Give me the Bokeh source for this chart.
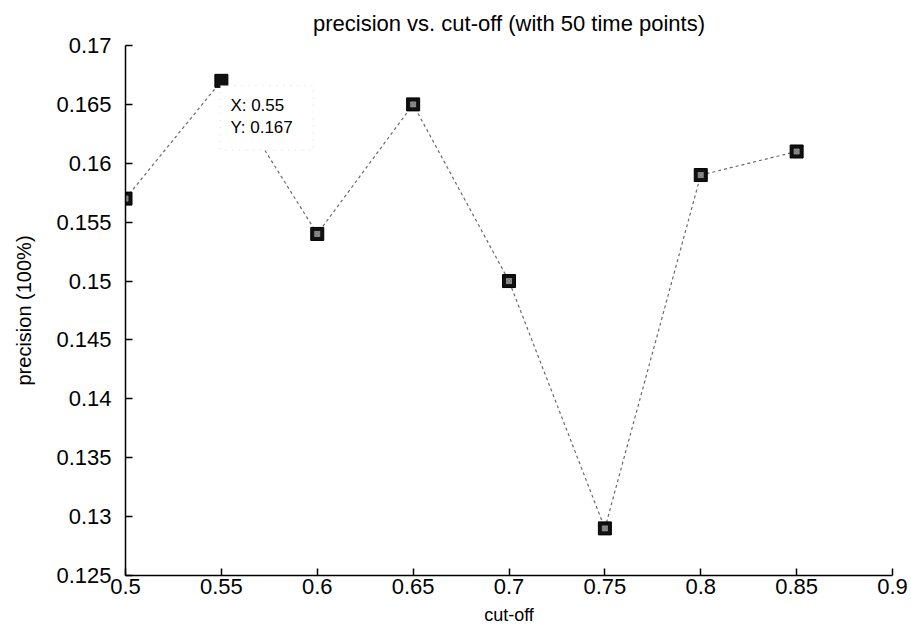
from bokeh.plotting import figure
from bokeh.models import Range1d, FixedTicker, Label, BoxAnnotation
from bokeh.embed import file_html
from bokeh.resources import INLINE

cutoff = [0.5, 0.55, 0.6, 0.65, 0.7, 0.75, 0.8, 0.85]
precision = [0.157, 0.167, 0.154, 0.165, 0.150, 0.129, 0.159, 0.161]
x_ticks = [0.5, 0.55, 0.6, 0.65, 0.7, 0.75, 0.8, 0.85, 0.9]
y_ticks = [0.125, 0.13, 0.135, 0.14, 0.145, 0.15, 0.155, 0.16, 0.165, 0.17]
tip_index = 1  # data tip is shown on the 0.55 point

FONT = "Liberation Sans"

p = figure(width=911, height=630, output_backend="svg", toolbar_location=None,
           x_range=Range1d(0.5, 0.9), y_range=Range1d(0.125, 0.17),
           min_border_left=125, min_border_right=19, min_border_top=45, min_border_bottom=55)
p.title.text = "precision vs. cut-off (with 50 time points)"
p.title.align = "center"
p.title.vertical_align = "top"
p.title.text_font = FONT
p.title.text_font_size = "22px"
p.title.text_font_style = "normal"
p.title.text_color = "black"
p.title.offset = 0
p.title.standoff = 16

p.grid.visible = False
p.outline_line_color = None
p.background_fill_color = "white"
p.border_fill_color = "white"

for ax in (p.xaxis[0], p.yaxis[0]):
    ax.major_tick_in = 7
    ax.major_tick_out = 0
    ax.minor_tick_in = 0
    ax.minor_tick_out = 0
    ax.axis_line_color = "black"
    ax.axis_line_width = 1.5
    ax.major_tick_line_width = 1.5
    ax.major_label_text_font = FONT
    ax.major_label_text_font_size = "22px"
    ax.major_label_text_color = "black"
    ax.axis_label_text_font = FONT
    ax.axis_label_text_font_style = "normal"
    ax.axis_label_text_color = "black"

p.xaxis.ticker = FixedTicker(ticks=x_ticks)
p.yaxis.ticker = FixedTicker(ticks=y_ticks)
p.xaxis.major_label_overrides = {t: f"{t:g}" for t in x_ticks}
p.yaxis.major_label_overrides = {t: f"{t:g}" for t in y_ticks}
p.xaxis.axis_label = "cut-off"
p.yaxis.axis_label = "precision (100%)"
p.xaxis.axis_label_text_font_size = "18px"
p.yaxis.axis_label_text_font_size = "20px"
p.xaxis.major_label_standoff = 3
p.yaxis.major_label_standoff = 14
p.xaxis.axis_label_standoff = 8
p.yaxis.axis_label_standoff = 18

p.line(cutoff, precision, line_color="#6a6a6a", line_width=1.2, line_dash="3 3")
p.scatter(cutoff, precision, marker="square", size=13, fill_color="#111111",
          line_color="black", line_width=1)
inner_x = [x for i, x in enumerate(cutoff) if i != tip_index]
inner_y = [y for i, y in enumerate(precision) if i != tip_index]
p.scatter(inner_x, inner_y, marker="square_x", size=5, fill_color="#777777",
          line_color="#999999", line_width=0.8)

# data tip
tx, ty = cutoff[tip_index], precision[tip_index]
box = BoxAnnotation(left=0.5495, right=0.598, bottom=0.1611, top=0.1666,
                    fill_color="white", fill_alpha=1.0, line_color="#aaaaaa",
                    line_dash="1 6", line_width=1.5)
p.add_layout(box)
p.add_layout(Label(x=tx, y=ty, x_offset=9, y_offset=-34, text=f"X: {tx:g}",
                   text_font=FONT, text_font_size="17px", text_color="black"))
p.add_layout(Label(x=tx, y=ty, x_offset=9, y_offset=-56, text=f"Y: {ty:g}",
                   text_font=FONT, text_font_size="17px", text_color="black"))

open("out.html", "w").write(file_html(p, INLINE))
